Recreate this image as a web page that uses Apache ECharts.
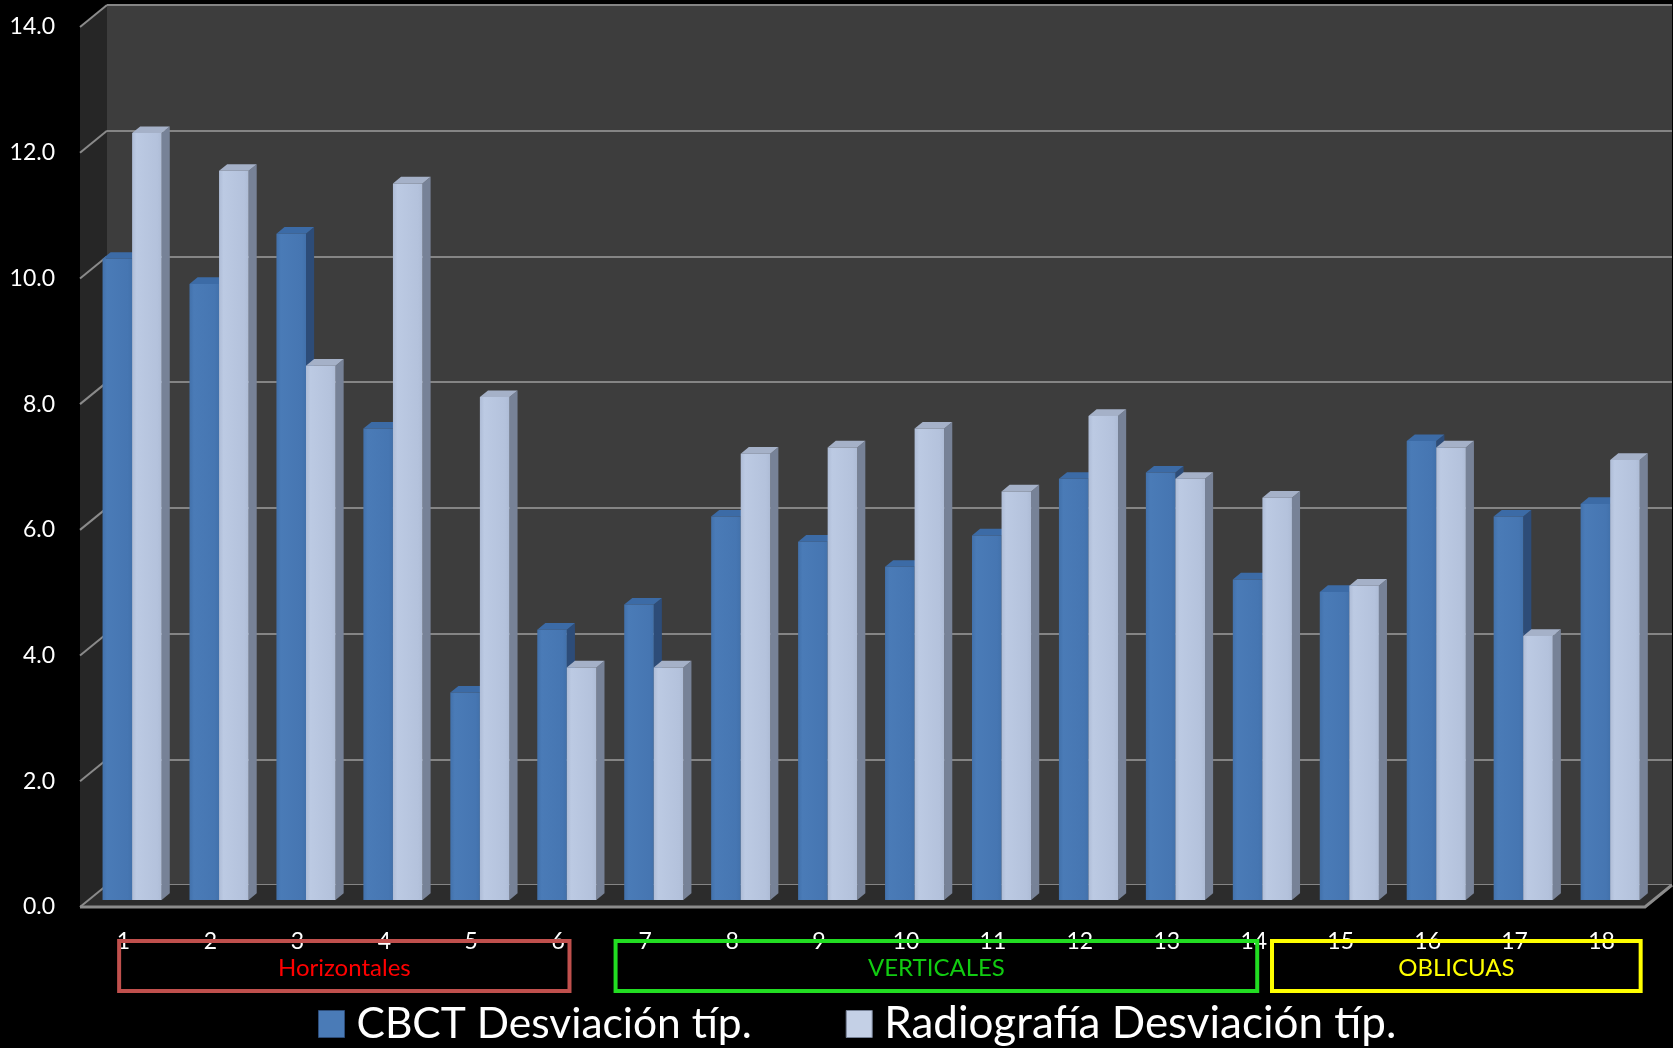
<!DOCTYPE html>
<html>
<head>
<meta charset="utf-8">
<script src="https://cdn.jsdelivr.net/npm/echarts@6/dist/echarts.min.js"></script>
<style>
  html, body { margin: 0; padding: 0; background: #000; }
  #chart { width: 1673px; height: 1048px; }
</style>
</head>
<body>
<div id="chart"></div>
<script>
// ---- data ----
const categories = ['1', '2', '3', '4', '5', '6', '7', '8', '9', '10', '11', '12', '13', '14', '15', '16', '17', '18'];
const cbctValues = [10.2, 9.8, 10.6, 7.5, 3.3, 4.3, 4.7, 6.1, 5.7, 5.3, 5.8, 6.7, 6.8, 5.1, 4.9, 7.3, 6.1, 6.3];
const radioValues = [12.2, 11.6, 8.5, 11.4, 8.0, 3.7, 3.7, 7.1, 7.2, 7.5, 6.5, 7.7, 6.7, 6.4, 5.0, 7.2, 4.2, 7.0];
const seriesNames = ['CBCT Desviación típ.', 'Radiografía Desviación típ.'];
const yTicks = [0, 2, 4, 6, 8, 10, 12, 14];
const groupNames = ['Horizontales', 'VERTICALES', 'OBLICUAS'];
const groupFirst = [1, 7, 15];
const groupLast = [6, 14, 18];

// ---- layout & style ----
const FONT = 'Lato, "Open Sans", sans-serif';
const DX = 27, DY = 22;            // oblique depth of the floor (px)
const FRONT = 0.68, BACK = 0.38;   // bar depth slice, as fraction of floor depth
const BAR_FRAC = 0.34;             // one bar's width as fraction of the category band
const boxPad = [[-0.05, 0.13], [-0.34, 0.04], [-0.79, 0.45]]; // group box ends, in bands
const boxStroke = ['#c0504d', '#22dd22', '#ffff00'];
const boxText = ['#ff0000', '#11cc11', '#ffff00'];
const palettes = [
  { front: ['#4271ab', '#4a7bb7', '#4676b2'], side: '#2d4c78', top: '#3c6ba6' },
  { front: ['#aebcd6', '#bccae3', '#b4c2dc'], side: '#778297', top: '#a5b1c8' }
];

const chart = echarts.init(document.getElementById('chart'));

function barItem(side) {
  const pal = palettes[side];
  return function (params, api) {
    const i = api.value(0), v = api.value(1);
    const p0 = api.coord([i, 0]);
    const p1 = api.coord([i, v]);
    const w = api.size([1, 0])[0] * BAR_FRAC;
    const fx = -DX * FRONT, fy = DY * FRONT;
    const sx = DX * (FRONT - BACK), sy = -DY * (FRONT - BACK);
    const l = p0[0] + fx - (side === 0 ? w : 0);
    const r = l + w;
    const yb = p0[1] + fy, yt = p1[1] + fy;
    return {
      type: 'group',
      children: [
        { type: 'polygon', shape: { points: [[r, yt], [r + sx, yt + sy], [r + sx, yb + sy], [r, yb]] },
          style: { fill: pal.side } },
        { type: 'polygon', shape: { points: [[l, yt], [l + sx, yt + sy], [r + sx, yt + sy], [r, yt]] },
          style: { fill: pal.top } },
        { type: 'rect', shape: { x: l, y: yt, width: w, height: yb - yt },
          style: { fill: new echarts.graphic.LinearGradient(0, 0, 1, 0, [
            { offset: 0, color: pal.front[0] },
            { offset: 0.15, color: pal.front[1] },
            { offset: 0.85, color: pal.front[2] },
            { offset: 1, color: pal.front[0] }
          ]) } }
      ]
    };
  };
}

// side wall, floor and the slanted side gridlines
function frameItem(params, api) {
  const cs = params.coordSys;
  const x = cs.x, y = cs.y, w = cs.width, h = cs.height;
  const children = [
    { type: 'polygon', shape: { points: [[x, y], [x, y + h], [x - DX, y + h + DY], [x - DX, y + DY]] },
      style: { fill: '#262626' } },
    { type: 'polygon', shape: { points: [[x, y + h], [x + w, y + h], [x + w - DX, y + h + DY], [x - DX, y + h + DY]] },
      style: { fill: '#2c2c2c' } }
  ];
  yTicks.forEach(function (t) {
    const py = api.coord([0, t])[1];
    children.push({ type: 'line', shape: { x1: x, y1: py, x2: x - DX, y2: py + DY },
      style: { stroke: '#8a8a8a', lineWidth: 2 } });
  });
  children.push({ type: 'polyline',
    shape: { points: [[x - DX, y + h + DY], [x + w - DX, y + h + DY], [x + w, y + h]] },
    style: { stroke: '#8c8c8c', lineWidth: 3, fill: null } });
  return { type: 'group', children: children };
}

function groupItem(params, api) {
  const g = params.dataIndex;
  const band = api.size([1, 0])[0];
  const a = api.coord([groupFirst[g] - 1, 0]);
  const b = api.coord([groupLast[g] - 1, 0]);
  const x0 = a[0] - DX + boxPad[g][0] * band;
  const x1 = b[0] - DX + boxPad[g][1] * band;
  const y0 = a[1] + 56, y1 = a[1] + 106;
  return {
    type: 'group',
    children: [
      { type: 'rect', shape: { x: x0, y: y0, width: x1 - x0, height: y1 - y0 },
        style: { fill: null, stroke: boxStroke[g], lineWidth: 4 } },
      { type: 'text', style: { text: groupNames[g], x: (x0 + x1) / 2, y: (y0 + y1) / 2 + 2,
        align: 'center', verticalAlign: 'middle', fill: boxText[g],
        fontSize: 24, fontFamily: FONT } }
    ]
  };
}

const option = {
  backgroundColor: '#000',
  animation: false,
  grid: {
    left: 107, right: 1, top: 5, bottom: 163,
    show: true, backgroundColor: '#3d3d3d', borderWidth: 0,
    containLabel: false, outerBoundsMode: 'none'
  },
  legend: {
    left: 318, top: 1002, padding: 0,
    itemWidth: 26, itemHeight: 27, itemGap: 94,
    icon: 'rect',
    textStyle: { color: '#fff', fontSize: 42.5, fontFamily: FONT, padding: [0, 0, 0, 7] },
    data: [
      { name: seriesNames[0], itemStyle: { color: '#4a7bb7', borderColor: '#2d4c78', borderWidth: 1 } },
      { name: seriesNames[1], itemStyle: { color: '#c4d0e6', borderColor: '#778297', borderWidth: 1 },
        textStyle: { fontSize: 44 } }
    ]
  },
  xAxis: {
    type: 'category',
    data: categories,
    axisLine: { show: false },
    axisTick: { show: false },
    splitLine: { show: false },
    axisLabel: {
      interval: 0, color: '#fff', fontSize: 23, fontFamily: FONT,
      margin: 45, padding: [0, 2 * DX, 0, 0]
    }
  },
  yAxis: {
    type: 'value',
    min: 0, max: 14, interval: 2,
    axisLine: { show: false },
    axisTick: { show: false },
    splitLine: { lineStyle: { color: '#858585', width: 2 } },
    axisLabel: {
      color: '#fff', fontSize: 23, fontFamily: FONT,
      margin: 52, lineHeight: 2 * DY,
      // an empty first line drops the value onto the front edge of the side wall
      formatter: function (v) { return '\n' + v.toFixed(1); }
    }
  },
  series: [
    { type: 'custom', name: 'frame', z: 1, silent: true, renderItem: frameItem, data: [[0, 0]] },
    { type: 'custom', name: seriesNames[0], z: 3, renderItem: barItem(0),
      itemStyle: { color: '#4a7bb7' },
      encode: { x: 0, y: 1 },
      data: cbctValues.map(function (v, i) { return [i, v]; }) },
    { type: 'custom', name: seriesNames[1], z: 4, renderItem: barItem(1),
      itemStyle: { color: '#c4d0e6' },
      encode: { x: 0, y: 1 },
      data: radioValues.map(function (v, i) { return [i, v]; }) },
    { type: 'custom', name: 'groups', z: 5, silent: true, renderItem: groupItem,
      data: groupNames.map(function (n, i) { return [i, 0]; }) }
  ]
};

chart.setOption(option);
</script>
</body>
</html>
